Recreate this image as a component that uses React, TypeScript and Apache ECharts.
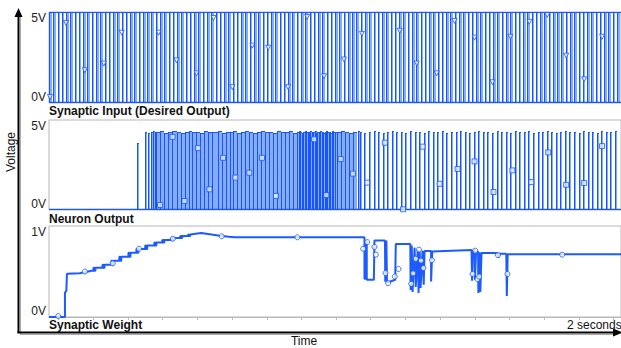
import React, { useEffect, useRef } from 'react';
import * as echarts from 'echarts';

const timeMaxMs = 2009;
const tickTimesMs = [33, 155, 277, 399, 521, 643, 765, 887, 1008, 1130, 1252, 1374, 1496, 1618, 1740, 1862, 1983];
const inputLabels = ['0V', '5V'];
const neuronLabels = ['0V', '5V'];
const weightLabels = ['0V', '1V'];
const panelTitles = ['Synaptic Input (Desired Output)', 'Neuron Output', 'Synaptic Weight'];
const axisTitles = ['Voltage', 'Time'];
const durationLabel = '2 seconds';
const inputHighV = 5;

const inputRiseMs = [0,15,30,45,60,75,90,105,120,135,150,165,180,195,210,225,240,255,270,285,300,315,330,345,360,375,390,405,420,435,450,465,480,495,510,525,540,555,570,585,600,615,630,645,660,675,690,705,720,735,750,765,780,795,810,825,840,855,870,885,900,915,930,945,960,975,990,1005,1020,1035,1050,1065,1080,1095,1110,1125,1140,1155,1170,1185,1200,1215,1230,1245,1260,1275,1290,1305,1320,1335,1350,1365,1380,1395,1410,1425,1440,1455,1470,1485,1500,1515,1530,1545,1560,1575,1590,1605,1620,1635,1650,1665,1680,1695,1710,1725,1740,1755,1770,1785,1800,1815,1830,1845,1860,1875,1890,1905,1920,1935,1950,1965,1980,1995];
const inputFallMs = [9,24,39,54,69,84,99,114,129,144,159,174,189,204,219,234,249,264,279,294,309,324,339,354,369,384,399,414,429,444,459,474,489,504,519,534,549,564,579,594,609,624,639,654,669,684,699,714,729,744,759,774,789,804,819,834,849,864,879,894,909,924,939,954,969,984,999,1014,1029,1044,1059,1074,1089,1104,1119,1134,1149,1164,1179,1194,1209,1224,1239,1254,1269,1284,1299,1314,1329,1344,1359,1374,1389,1404,1419,1434,1449,1464,1479,1494,1509,1524,1539,1554,1569,1584,1599,1614,1629,1644,1659,1674,1689,1704,1719,1734,1749,1764,1779,1794,1809,1824,1839,1854,1869,1884,1899,1914,1929,1944,1959,1974,1989,2004];

const inputMarkers = [[3.5,0.33],[59.5,4.4],[126,1.8],[192.5,2.17],[255.5,3.86],[385,3.86],[448,2.34],[518,1.63],[577.5,4.67],[644,0.87],[714,3.15],[770,3.04],[840,0.87],[906.5,4.73],[966,1.47],[1036,2.39],[1099,3.8],[1232,3.97],[1291.5,2.17],[1361.5,1.63],[1424.5,4.51],[1494.5,3.59],[1557.5,1.14],[1620.5,3.64],[1687,4.46],[1750,4.84],[1816.5,2.6],[1879.5,1.3],[1942.5,3.64]];

// [rise ms, fall ms, volts]
const neuronPulses = [
  [0,0,0],
  [310,311,3.72],
  [338,340,4.35],[349,351,4.3],[358,360,4.35],[365,367,4.4],[371,374,4.35],
  [375,389,4.35],[389,403,4.4],[403,417,4.3],[417,431,4.35],[431,448,4.4],
  [448,462,4.35],[462,476,4.3],[476,490,4.35],[490,504,4.4],[504,518,4.35],[518,532,4.35],[532,546,4.3],[546,560,4.4],[560,574,4.35],[574,592,4.35],
  [592,606,4.4],[606,620,4.3],[620,634,4.35],[634,648,4.35],[648,662,4.4],[662,676,4.3],[676,690,4.35],[690,704,4.4],[704,718,4.35],[718,732,4.3],[732,746,4.35],[746,760,4.4],[760,774,4.35],[774,788,4.35],[788,802,4.3],[802,816,4.4],[816,830,4.35],[830,844,4.35],[844,858,4.4],[858,872,4.3],[872,878,4.35],
  [878,883,4.4],[883,888,4.35],[888,893,4.3],[893,898,4.35],[898,903,4.4],[903,908,4.35],[908,913,4.35],[913,918,4.3],[918,923,4.4],[923,928,4.35],[928,933,4.35],[933,938,4.4],[938,943,4.3],[943,948,4.35],[948,953,4.35],[953,958,4.4],[958,963,4.35],[963,968,4.3],[968,973,4.35],[973,978,4.4],[978,983,4.35],[983,988,4.35],[988,993,4.3],[993,998,4.4],[998,1003,4.35],[1003,1011,4.35],
  [1011,1025,4.35],[1025,1039,4.4],[1039,1053,4.35],[1053,1067,4.3],[1067,1081,4.35],
  [1085,1088,4.4],
  [1092,1097,4.35],[1108,1113,4.3],[1124,1129,4.35],[1140,1145,4.4],[1156,1161,4.35],[1172,1177,4.3],[1188,1193,4.35],[1204,1209,4.4],[1220,1225,4.35],[1236,1241,4.35],[1252,1257,4.3],[1268,1273,4.4],[1284,1289,4.35],[1300,1305,4.35],[1316,1321,4.3],[1332,1337,4.4],[1348,1353,4.35],[1364,1369,4.35],[1380,1385,4.4],[1396,1401,4.3],[1412,1417,4.35],[1428,1433,4.35],[1444,1449,4.4],[1460,1465,4.35],[1476,1481,4.3],[1492,1497,4.35],[1508,1513,4.4],[1524,1529,4.35],[1540,1545,4.35],[1556,1561,4.3],[1572,1577,4.4],[1588,1593,4.35],[1604,1609,4.35],[1620,1625,4.3],[1636,1641,4.4],[1652,1657,4.35],[1668,1673,4.35],[1684,1689,4.4],[1700,1705,4.3],[1716,1721,4.35],[1732,1737,4.35],[1748,1753,4.4],[1764,1769,4.35],[1780,1785,4.3],[1796,1801,4.35],[1812,1817,4.4],[1828,1833,4.35],[1844,1849,4.35],[1860,1865,4.3],[1876,1881,4.4],[1892,1897,4.35],[1908,1913,4.35],[1924,1929,4.3],[1940,1945,4.4],[1956,1961,4.35],[1972,1977,4.35],[1988,1993,4.4]
];

const neuronMarkers = [[390,0.28],[434,4.06],[476,0.5],[523,3.44],[563.5,1.15],[611.5,2.9],[654.5,1.8],[703.5,2.07],[748,2.9],[797,0.78],[931,3.93],[974,0.83],[1024.5,2.83],[1067.5,2.02],[1117.5,1.52],[1179.5,3.74],[1243.5,0.04],[1312.5,3.52],[1372,1.46],[1435,2.28],[1494.5,2.7],[1561,1.0],[1627.5,2.2],[1694,1.55],[1753.5,3.2],[1816.5,1.4],[1879.5,1.5],[1942.5,3.55]];

const weightTrace = [
  [0,0],[56,0],[56,0.265],[61,0.29],[63,0.475],[108,0.48],[150,0.508],
  [156,0.508],[156,0.541],[159,0.541],[159,0.508],[163,0.508],[163,0.541],
  [188,0.541],[188,0.575],[191,0.575],[191,0.541],[195,0.541],[195,0.575],
  [219,0.575],[219,0.619],[222,0.619],[222,0.575],[226,0.575],[226,0.619],
  [247,0.619],[247,0.663],[250,0.663],[250,0.619],[254,0.619],[254,0.663],
  [279,0.663],[279,0.707],[282,0.707],[282,0.663],[286,0.663],[286,0.707],
  [307,0.707],[307,0.746],[310,0.746],[310,0.707],[314,0.707],[314,0.746],
  [338,0.746],[338,0.785],[341,0.785],[341,0.746],[345,0.746],[345,0.785],
  [370,0.785],[370,0.818],[373,0.818],[373,0.785],[377,0.785],[377,0.818],
  [398,0.818],[398,0.845],[401,0.845],[401,0.818],[405,0.818],[405,0.845],
  [429,0.845],[429,0.867],[432,0.867],[432,0.845],[436,0.845],[436,0.867],
  [461,0.867],[461,0.889],[464,0.889],[464,0.867],[468,0.867],[468,0.889],
  [489,0.889],[489,0.906],[492,0.906],[492,0.889],[496,0.889],[496,0.906],
  [515,0.915],[535,0.923],[606,0.889],[650,0.876],[1108,0.876],
  [1108,0.42],[1113,0.42],[1113,0.829],[1116,0.829],[1116,0.409],[1141,0.409],[1143,0.84],[1180,0.84],[1181,0.387],[1185,0.84],[1187,0.376],[1216,0.41],[1218,0.801],[1269,0.801],[1270,0.298],[1274,0.785],[1277,0.276],[1284,0.762],[1288,0.331],[1295,0.74],[1298,0.265],[1302,0.729],[1305,0.32],[1312,0.729],[1316,0.354],[1319,0.724],[1342,0.724],[1342,0.39],[1346,0.72],[1484,0.735],[1486,0.398],[1489,0.73],[1495,0.73],[1496,0.409],[1500,0.72],[1507,0.718],[1508,0.265],[1512,0.71],[1515,0.276],[1519,0.702],[1575,0.702],[1578,0.652],[1582,0.696],[1606,0.696],[1608,0.232],[1611,0.69],[2009,0.69]
];

const weightMarkers = [[32.5,0.01],[126,0.5],[224,0.59],[316,0.75],[435,0.86],[606.5,0.887],[872.5,0.876],[1103.5,0.75],[1117.5,0.823],[1143,0.77],[1148,0.685],[1182,0.483],[1191,0.372],[1214.5,0.445],[1227.5,0.528],[1272,0.365],[1279,0.48],[1288,0.64],[1299.5,0.74],[1306.5,0.62],[1315,0.538],[1345,0.624],[1487.5,0.473],[1497,0.729],[1505,0.417],[1511,0.445],[1577,0.68],[1610,0.473],[1802.5,0.685]];

const DARK = '#1655ff';
const LIGHT = '#86acff';
const GRAY = '#b8b8b8';
const FONT = '"Liberation Sans", Arial, sans-serif';

function makePulseRender(list: number[][], topToNext: boolean) {
  return (params: any, api: any) => {
    const i = params.dataIndex;
    const s = list[i][0], e = list[i][1], v = list[i][2];
    const n = i + 1 < list.length ? list[i + 1][0] : timeMaxMs;
    const pS = api.coord([s, v]);
    const pB = api.coord([s, 0]);
    const pE = api.coord([e, v]);
    const pN = api.coord([n, 0]);
    const xs = Math.round(pS[0]);
    const xe = Math.max(Math.round(pE[0]), xs + 2);
    const xn = Math.round(pN[0]);
    const yt = Math.round(pS[1]);
    const yb = Math.round(pB[1]);
    const children: any[] = [];
    if (v > 0) {
      children.push({ type: 'rect', shape: { x: xs + 1, y: yt, width: xe - xs - 1, height: yb - yt }, style: { fill: LIGHT } });
      children.push({ type: 'line', shape: { x1: xs + 0.5, y1: yb, x2: xs + 0.5, y2: yt }, style: { stroke: DARK, lineWidth: 1 } });
      children.push({ type: 'line', shape: { x1: xs, y1: yt + 0.5, x2: topToNext ? xn : xe, y2: yt + 0.5 }, style: { stroke: DARK, lineWidth: 1 } });
    }
    children.push({ type: 'line', shape: { x1: xs, y1: yb - 0.5, x2: xn, y2: yb - 0.5 }, style: { stroke: DARK, lineWidth: 1.5 } });
    return { type: 'group', children };
  };
}

const inputPulses = inputRiseMs.map((r, i) => [r, inputFallMs[i], inputHighV]);

function yAxisFor(gridIndex: number, max: number, labels: string[]) {
  return {
    gridIndex, type: 'value', min: 0, max, interval: max,
    axisLine: { show: false }, axisTick: { show: false }, splitLine: { show: false },
    axisLabel: {
      formatter: (_v: number, idx: number) => labels[idx],
      fontFamily: FONT, fontSize: 12, color: '#222', margin: 3,
      verticalAlignMinLabel: 'bottom', verticalAlignMaxLabel: 'top',
    },
  };
}

function text(t: string, x: number, y: number, extra: any = {}, styleExtra: any = {}) {
  return {
    type: 'text', x, y, ...extra,
    style: { text: t, fill: '#111', font: `12px ${FONT}`, textAlign: 'left', textVerticalAlign: 'middle', align: 'left', verticalAlign: 'middle', ...styleExtra },
  };
}

export default function App() {
  const ref = useRef<HTMLDivElement>(null);
  useEffect(() => {
    document.body.style.margin = '0';
    const chart = echarts.init(ref.current as HTMLDivElement, null, { renderer: 'svg' });
    const grids = [
      { left: 49, right: -2, top: 12, height: 91 },
      { left: 49, right: -2, top: 120, height: 90 },
      { left: 49, right: -2, top: 226, height: 91 },
    ].map((g) => ({ ...g, show: true, borderColor: GRAY, borderWidth: 1 }));
    const option: any = {
      animation: false,
      grid: grids,
      xAxis: [
        { gridIndex: 0, type: 'value', min: 0, max: timeMaxMs, show: false },
        { gridIndex: 1, type: 'value', min: 0, max: timeMaxMs, show: false },
        {
          gridIndex: 2, type: 'value', min: 0, max: timeMaxMs,
          axisLine: { lineStyle: { color: GRAY, width: 1 } },
          axisTick: { customValues: tickTimesMs, length: 3, lineStyle: { color: GRAY } },
          axisLabel: { show: false }, splitLine: { show: false },
        },
      ],
      yAxis: [yAxisFor(0, 5, inputLabels), yAxisFor(1, 5, neuronLabels), yAxisFor(2, 1, weightLabels)],
      series: [
        { type: 'custom', xAxisIndex: 0, yAxisIndex: 0, data: inputPulses, encode: { x: [0, 1], y: 2 }, renderItem: makePulseRender(inputPulses, true), clip: true, silent: true },
        { type: 'scatter', xAxisIndex: 0, yAxisIndex: 0, data: inputMarkers, symbol: 'triangle', symbolRotate: 180, symbolSize: 5, itemStyle: { color: '#fff', borderColor: DARK, borderWidth: 1 }, z: 5, silent: true },
        { type: 'custom', xAxisIndex: 1, yAxisIndex: 1, data: neuronPulses, encode: { x: [0, 1], y: 2 }, renderItem: makePulseRender(neuronPulses, false), clip: true, silent: true },
        { type: 'scatter', xAxisIndex: 1, yAxisIndex: 1, data: neuronMarkers, symbol: 'rect', symbolSize: 5, itemStyle: { color: '#e4ecff', borderColor: DARK, borderWidth: 1 }, z: 5, silent: true },
        { type: 'line', xAxisIndex: 2, yAxisIndex: 2, data: weightTrace, showSymbol: false, lineStyle: { color: '#1c5cff', width: 2 }, clip: true, silent: true },
        { type: 'scatter', xAxisIndex: 2, yAxisIndex: 2, data: weightMarkers, symbol: 'circle', symbolSize: 5, itemStyle: { color: '#fff', borderColor: DARK, borderWidth: 1 }, z: 5, silent: true },
      ],
      graphic: [
        { type: 'line', shape: { x1: 20.5, y1: 17, x2: 20.5, y2: 334 }, style: { stroke: '#aaa', lineWidth: 1 } },
        { type: 'line', shape: { x1: 20, y1: 334.5, x2: 614, y2: 334.5 }, style: { stroke: '#aaa', lineWidth: 1 } },
        { type: 'line', shape: { x1: 18.5, y1: 15, x2: 18.5, y2: 333 }, style: { stroke: '#000', lineWidth: 2 } },
        { type: 'line', shape: { x1: 17.5, y1: 332.5, x2: 615, y2: 332.5 }, style: { stroke: '#000', lineWidth: 2 } },
        { type: 'polygon', shape: { points: [[18.5, 8], [14.5, 17], [22.5, 17]] }, style: { fill: '#000' } },
        { type: 'polygon', shape: { points: [[623, 332.5], [613, 328.5], [613, 336.5]] }, style: { fill: '#000' } },
        text(panelTitles[0], 49, 111, {}, { font: `bold 12px ${FONT}` }),
        text(panelTitles[1], 49, 218.5, {}, { font: `bold 12px ${FONT}` }),
        text(panelTitles[2], 49, 325, {}, { font: `bold 12px ${FONT}` }),
        text(axisTitles[0], 11, 152, { rotation: Math.PI / 2 }, { textAlign: 'center', align: 'center' }),
        text(axisTitles[1], 304, 341, {}, { textAlign: 'center', align: 'center' }),
        text(durationLabel, 567, 325),
      ],
    };
    chart.setOption(option);
    return () => chart.dispose();
  }, []);
  return <div ref={ref} style={{ position: 'absolute', left: 0, top: 0, width: 621, height: 348, background: '#fff' }} />;
}
